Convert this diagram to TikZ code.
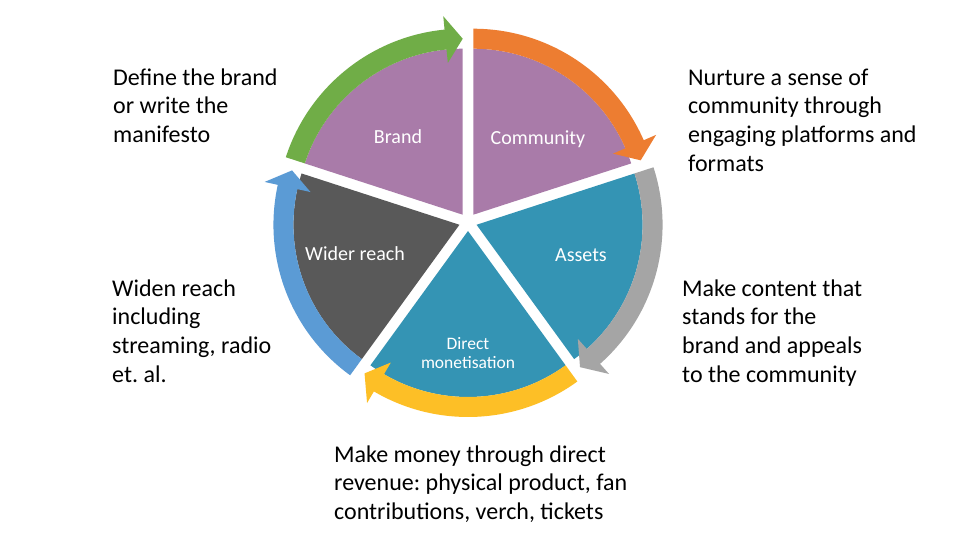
\documentclass[tikz,border=0pt]{standalone}
\usepackage{fontspec}
\setmainfont{Carlito}
\frenchspacing
\definecolor{cpurple}{RGB}{169,123,169}
\definecolor{cteal}{RGB}{52,148,180}
\definecolor{cdark}{RGB}{89,89,89}
\definecolor{agreen}{RGB}{112,173,71}
\definecolor{aorange}{RGB}{237,125,49}
\definecolor{agray}{RGB}{165,165,165}
\definecolor{ayellow}{RGB}{253,191,38}
\definecolor{ablue}{RGB}{91,155,213}
\tikzset{
  seglabel/.style={text=white, font=\fontsize{20}{24}\selectfont, inner sep=0pt, align=center},
  smalllabel/.style={text=white, font=\fontsize{17.5}{19}\selectfont, inner sep=0pt, align=center},
  desc/.style={text=black, font=\fontsize{24}{28.8}\selectfont, inner sep=0pt, align=left, anchor=north west}
}
\begin{document}
\begin{tikzpicture}[x=1pt,y=1pt]
\useasboundingbox (0,0) rectangle (960,540);
\fill[white] (0,0) rectangle (960,540);
\begin{scope}[shift={(468,318)}]
\foreach \b/\fc/\ac in {126/cpurple/agreen, 54/cpurple/aorange, -18/cteal/agray, -90/cteal/ayellow, 198/cdark/ablue}{
  \pgfmathsetmacro{\s}{\b+36}
  \pgfmathsetmacro{\e}{\b-36}
  \pgfmathsetmacro{\h}{\e+5.6}
  \begin{scope}[shift={(\b:9)}]
    \fill[\fc] (0,0) -- (\s:166) arc[start angle=\s, end angle=\e, radius=166] -- cycle;
    \fill[\ac] (\s:186) arc[start angle=\s, end angle=\h, radius=186]
      -- (\h:199.5) -- (\e:176) -- (\h:152.5) -- (\h:166)
      arc[start angle=\h, end angle=\s, radius=166] -- cycle;
  \end{scope}
}
\end{scope}
\node[seglabel] (brand) at (398,403.3) {Brand};
\node[seglabel] (community) at (538,401) {Community};
\node[seglabel] (assets) at (581,285) {Assets};
\node[seglabel] (wider) at (355,286) {Wider reach};
\node[smalllabel] (direct) at (468,187) {Direct\\monetisation};
\node[desc] (tbrand) at (113,475.2) {\strut Define the brand\\or write the\\manifesto};
\node[desc] (tcomm) at (688,475.2) {\strut Nurture a sense of\\community through\\engaging platforms and\\formats};
\node[desc] (tassets) at (682,264.2) {\strut Make content that\\stands for the\\brand and appeals\\to the community};
\node[desc] (twider) at (112,264.2) {\strut Widen reach\\including\\streaming, radio\\et. al.};
\node[desc] (tmoney) at (334,98.2) {\strut Make money through direct\\revenue: physical product, fan\\contributions, verch, tickets};
\end{tikzpicture}
\end{document}
